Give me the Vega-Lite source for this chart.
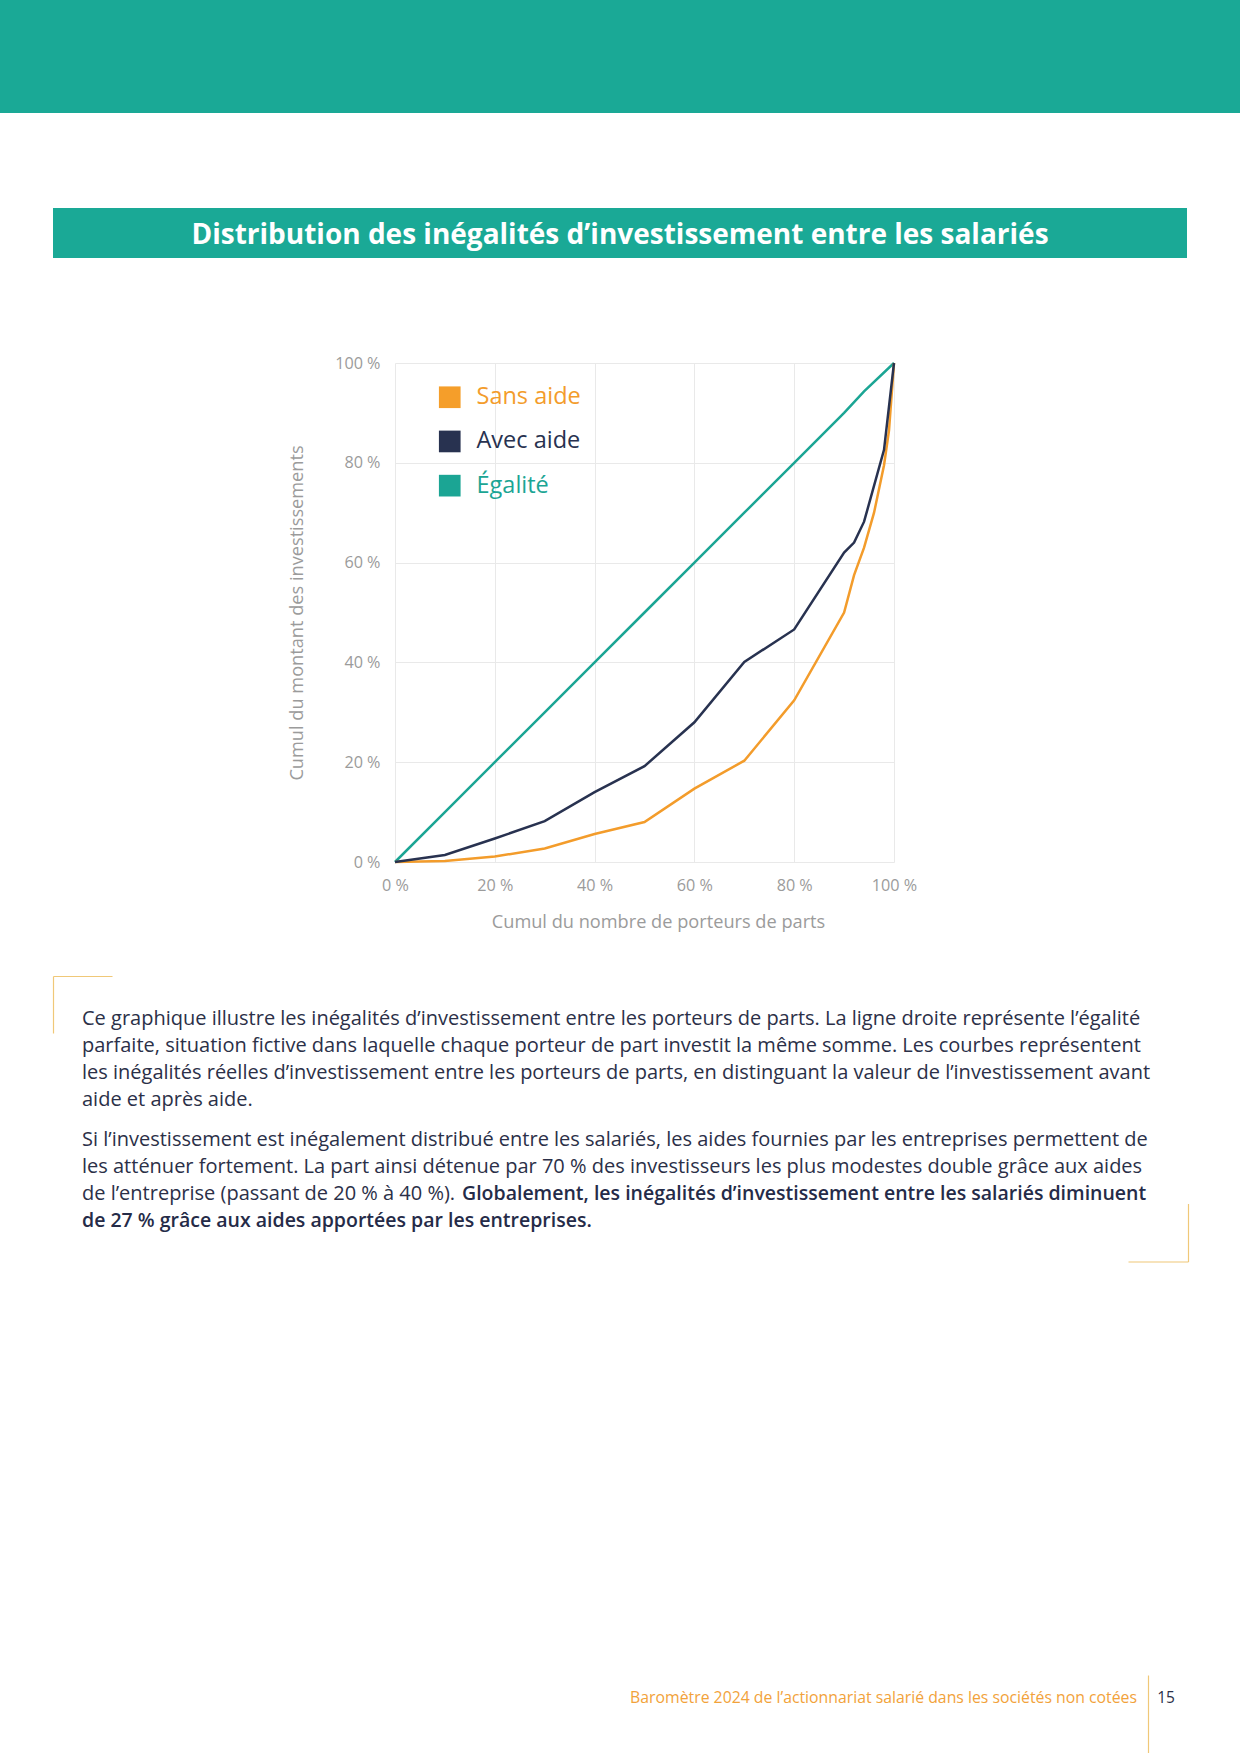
{
  "$schema": "https://vega.github.io/schema/vega-lite/v6.json",
  "padding": 0,
  "background": "white",
  "bounds": "flush",
  "center": true,
  "spacing": 0,
  "config": {
    "view": {"stroke": null},
    "font": "Open Sans",
    "concat": {"spacing": 0}
  },
  "vconcat": [
    {"width": 1240, "height": 113, "view": {"fill": "#1aa996", "stroke": null}, "data": {"values": []}, "mark": "text"},
    {"width": 1, "height": 95, "data": {"values": []}, "mark": "text"},
    {
      "width": 1134, "height": 50,
      "view": {"fill": "#1aa996", "stroke": null},
      "data": {"values": [{"titre": "Distribution des inégalités d’investissement entre les salariés"}]},
      "mark": {"type": "text", "color": "#ffffff", "fontWeight": "bold", "fontSize": 28, "align": "center", "baseline": "middle", "dy": 3},
      "encoding": {"text": {"field": "titre"}}
    },
    {"width": 1, "height": 105, "data": {"values": []}, "mark": "text"},
    {
      "width": 548, "height": 499,
      "data": {"values": [
        {"serie": "Égalité", "x": 0, "y": 0},
        {"serie": "Égalité", "x": 10, "y": 10},
        {"serie": "Égalité", "x": 20, "y": 20},
        {"serie": "Égalité", "x": 30, "y": 30},
        {"serie": "Égalité", "x": 40, "y": 40},
        {"serie": "Égalité", "x": 50, "y": 50},
        {"serie": "Égalité", "x": 60, "y": 60},
        {"serie": "Égalité", "x": 70, "y": 70},
        {"serie": "Égalité", "x": 80, "y": 80},
        {"serie": "Égalité", "x": 90, "y": 90},
        {"serie": "Égalité", "x": 94, "y": 94.3},
        {"serie": "Égalité", "x": 100, "y": 100},
        {"serie": "Sans aide", "x": 0, "y": 0},
        {"serie": "Sans aide", "x": 10, "y": 0.2},
        {"serie": "Sans aide", "x": 20, "y": 1.1},
        {"serie": "Sans aide", "x": 30, "y": 2.7},
        {"serie": "Sans aide", "x": 40, "y": 5.6},
        {"serie": "Sans aide", "x": 50, "y": 8},
        {"serie": "Sans aide", "x": 60, "y": 14.7},
        {"serie": "Sans aide", "x": 70, "y": 20.3},
        {"serie": "Sans aide", "x": 80, "y": 32.4},
        {"serie": "Sans aide", "x": 90, "y": 50},
        {"serie": "Sans aide", "x": 92, "y": 57.5},
        {"serie": "Sans aide", "x": 94, "y": 63},
        {"serie": "Sans aide", "x": 96, "y": 70},
        {"serie": "Sans aide", "x": 98, "y": 79.5},
        {"serie": "Sans aide", "x": 99, "y": 86.5},
        {"serie": "Sans aide", "x": 100, "y": 100},
        {"serie": "Avec aide", "x": 0, "y": 0},
        {"serie": "Avec aide", "x": 10, "y": 1.4},
        {"serie": "Avec aide", "x": 20, "y": 4.7},
        {"serie": "Avec aide", "x": 30, "y": 8.2},
        {"serie": "Avec aide", "x": 40, "y": 14},
        {"serie": "Avec aide", "x": 50, "y": 19.2},
        {"serie": "Avec aide", "x": 60, "y": 28},
        {"serie": "Avec aide", "x": 70, "y": 40.1},
        {"serie": "Avec aide", "x": 80, "y": 46.6},
        {"serie": "Avec aide", "x": 90, "y": 62},
        {"serie": "Avec aide", "x": 92, "y": 64},
        {"serie": "Avec aide", "x": 94, "y": 68.2},
        {"serie": "Avec aide", "x": 98, "y": 82.6},
        {"serie": "Avec aide", "x": 100, "y": 100}
      ]},
      "mark": {"type": "line", "strokeWidth": 2.5},
      "encoding": {
        "x": {
          "field": "x", "type": "quantitative",
          "scale": {"domain": [0, 100], "nice": false, "range": [49, 548]},
          "axis": {
            "values": [0, 20, 40, 60, 80, 100],
            "labelExpr": "datum.value + ' %'",
            "labelFlush": false,
            "title": "Cumul du nombre de porteurs de parts",
            "titleX": 312,
            "domain": false, "ticks": false,
            "gridColor": "#e9e9e9",
            "labelColor": "#9b9b9b", "labelFontSize": 16.2, "labelPadding": 15,
            "titleColor": "#9b9b9b", "titleFontSize": 18.2, "titleFontWeight": "normal", "titlePadding": 20
          }
        },
        "y": {
          "field": "y", "type": "quantitative",
          "scale": {"domain": [0, 100], "nice": false},
          "axis": {
            "values": [0, 20, 40, 60, 80, 100],
            "labelExpr": "datum.value + ' %'",
            "labelFlush": false,
            "title": "Cumul du montant des investissements",
            "offset": -49,
            "domain": false, "ticks": false,
            "gridColor": "#e9e9e9",
            "labelColor": "#9b9b9b", "labelFontSize": 16.2, "labelPadding": 15,
            "titleColor": "#9b9b9b", "titleFontSize": 18.2, "titleFontWeight": "normal", "titlePadding": 28
          }
        },
        "color": {
          "field": "serie", "type": "nominal",
          "scale": {"domain": ["Sans aide", "Avec aide", "Égalité"], "range": ["#f39c2b", "#283250", "#1ba594"]},
          "legend": {
            "title": null,
            "orient": "none", "legendX": 438, "legendY": 385.5,
            "padding": 0,
            "symbolType": "square", "symbolSize": 470, "symbolStrokeWidth": 0,
            "labelFontSize": 23.5, "labelOffset": 15, "rowPadding": 19.2, "labelLimit": 300,
            "encode": {
              "symbols": {"update": {
                "fill": {"signal": "datum.value === 'Sans aide' ? '#f59e2a' : datum.value === 'Avec aide' ? '#283250' : '#1ba594'"},
                "stroke": {"value": "transparent"}
              }},
              "labels": {"update": {
                "fill": {"signal": "datum.value === 'Sans aide' ? '#f39c2b' : datum.value === 'Avec aide' ? '#283250' : '#1ba594'"}
              }}
            }
          }
        }
      }
    },
    {"width": 1, "height": 144, "data": {"values": []}, "mark": "text"},
    {
      "width": 1076, "height": 107,
      "layer": [
        {
          "data": {"values": [
            {"ligne": 1, "texte": "Ce graphique illustre les inégalités d’investissement entre les porteurs de parts. La ligne droite représente l’égalité"},
            {"ligne": 2, "texte": "parfaite, situation fictive dans laquelle chaque porteur de part investit la même somme. Les courbes représentent"},
            {"ligne": 3, "texte": "les inégalités réelles d’investissement entre les porteurs de parts, en distinguant la valeur de l’investissement avant"},
            {"ligne": 4, "texte": "aide et après aide."}
          ]},
          "mark": {"type": "text", "x": 0, "align": "left", "baseline": "middle", "fontSize": 20, "color": "#2b3048"},
          "encoding": {
            "y": {"field": "ligne", "type": "ordinal", "axis": null},
            "text": {"field": "texte"}
          }
        },
        {
          "data": {"values": [{"coin": "haut-gauche"}]},
          "mark": {"type": "point", "opacity": 0},
          "encoding": {
            "x": {"datum": 0, "type": "quantitative", "scale": {"domain": [0, 1], "range": [-29, 30]},
                  "axis": {"orient": "top", "offset": 30, "domainColor": "#f0c878", "domainWidth": 1.2, "labels": false, "ticks": false, "grid": false, "title": null}},
            "y": {"datum": 0, "type": "quantitative", "scale": {"domain": [0, 1], "range": [27, -30]},
                  "axis": {"orient": "left", "offset": 29, "domainColor": "#f0c878", "domainWidth": 1.2, "labels": false, "ticks": false, "grid": false, "title": null}}
          }
        }
      ],
      "resolve": {"scale": {"x": "independent", "y": "independent"}}
    },
    {"width": 1, "height": 13.5, "data": {"values": []}, "mark": "text"},
    {
      "width": 1076, "height": 107,
      "layer": [
        {
          "layer": [
            {
              "data": {"values": [
                {"ligne": 5, "texte": "Si l’investissement est inégalement distribué entre les salariés, les aides fournies par les entreprises permettent de"},
                {"ligne": 6, "texte": "les atténuer fortement. La part ainsi détenue par 70 % des investisseurs les plus modestes double grâce aux aides"},
                {"ligne": 7, "texte": "de l’entreprise (passant de 20 % à 40 %)."}
              ]},
              "mark": {"type": "text", "x": 0, "align": "left", "baseline": "middle", "fontSize": 20, "color": "#2b3048"},
              "encoding": {
                "y": {"field": "ligne", "type": "ordinal", "axis": null},
                "text": {"field": "texte"}
              }
            },
            {
              "data": {"values": [
                {"ligne": 7, "texte": "Globalement, les inégalités d’investissement entre les salariés diminuent"}
              ]},
              "mark": {"type": "text", "x": 0, "dx": 380, "align": "left", "baseline": "middle", "fontSize": 19.5, "fontWeight": 600, "color": "#252b48"},
              "encoding": {
                "y": {"field": "ligne", "type": "ordinal", "axis": null},
                "text": {"field": "texte"}
              }
            },
            {
              "data": {"values": [
                {"ligne": 8, "texte": "de 27 % grâce aux aides apportées par les entreprises."}
              ]},
              "mark": {"type": "text", "x": 0, "align": "left", "baseline": "middle", "fontSize": 19.5, "fontWeight": 600, "color": "#252b48"},
              "encoding": {
                "y": {"field": "ligne", "type": "ordinal", "axis": null},
                "text": {"field": "texte"}
              }
            }
          ]
        },
        {
          "data": {"values": [{"coin": "bas-droite"}]},
          "mark": {"type": "point", "opacity": 0},
          "encoding": {
            "x": {"datum": 0, "type": "quantitative", "scale": {"domain": [0, 1], "range": [1046, 1106]},
                  "axis": {"orient": "bottom", "offset": 27.5, "domainColor": "#f0c878", "domainWidth": 1.2, "labels": false, "ticks": false, "grid": false, "title": null}},
            "y": {"datum": 0, "type": "quantitative", "scale": {"domain": [0, 1], "range": [134.5, 76.5]},
                  "axis": {"orient": "right", "offset": 30, "domainColor": "#f0c878", "domainWidth": 1.2, "labels": false, "ticks": false, "grid": false, "title": null}}
          }
        }
      ],
      "resolve": {"scale": {"x": "independent", "y": "independent"}}
    },
    {"width": 1, "height": 440.5, "data": {"values": []}, "mark": "text"},
    {
      "width": 1056, "height": 79,
      "layer": [
        {
          "data": {"values": [{"pied": "Baromètre 2024 de l’actionnariat salarié dans les sociétés non cotées"}]},
          "mark": {"type": "text", "x": "width", "dx": -11, "dy": -16.5, "align": "right", "baseline": "middle", "fontSize": 15.8, "color": "#f2a23a"},
          "encoding": {"text": {"field": "pied"}}
        },
        {
          "data": {"values": [{"page": "15"}]},
          "mark": {"type": "text", "x": "width", "dx": 18, "dy": -16.5, "align": "center", "baseline": "middle", "fontSize": 15.5, "color": "#2b3048"},
          "encoding": {"text": {"field": "page"}}
        },
        {
          "data": {"values": [{"filet": "séparateur"}]},
          "mark": {"type": "point", "opacity": 0},
          "encoding": {
            "y": {"datum": 0, "type": "quantitative", "scale": {"domain": [0, 1]},
                  "axis": {"orient": "right", "domainColor": "#f0c878", "domainWidth": 1.2, "labels": false, "ticks": false, "grid": false, "title": null}}
          }
        }
      ]
    }
  ]
}
